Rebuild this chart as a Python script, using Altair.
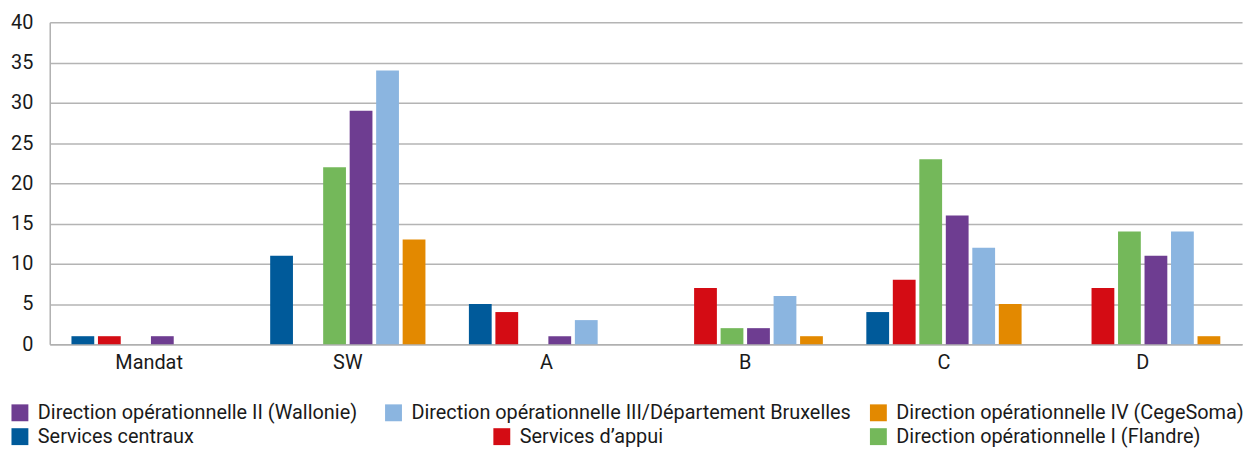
import altair as alt
import pandas as pd

categories = ["Mandat", "SW", "A", "B", "C", "D"]
series = [
    "Services centraux",
    "Services d’appui",
    "Direction opérationnelle I (Flandre)",
    "Direction opérationnelle II (Wallonie)",
    "Direction opérationnelle III/Département Bruxelles",
    "Direction opérationnelle IV (CegeSoma)",
]
colors = ["#005a9a", "#d40c14", "#74b85a", "#6e3d91", "#8bb5e0", "#e38900"]
values = {
    "Services centraux": [1, 11, 5, 0, 4, 0],
    "Services d’appui": [1, 0, 4, 7, 8, 7],
    "Direction opérationnelle I (Flandre)": [0, 22, 0, 2, 23, 14],
    "Direction opérationnelle II (Wallonie)": [1, 29, 1, 2, 16, 11],
    "Direction opérationnelle III/Département Bruxelles": [0, 34, 3, 6, 12, 14],
    "Direction opérationnelle IV (CegeSoma)": [0, 13, 0, 1, 5, 1],
}
# legend placement (relative to plot area)
legend_pos = {
    "Direction opérationnelle II (Wallonie)": (-40, 383),
    "Direction opérationnelle III/Département Bruxelles": (336, 383),
    "Direction opérationnelle IV (CegeSoma)": (824, 383),
    "Services centraux": (-40, 407),
    "Services d’appui": (445, 407),
    "Direction opérationnelle I (Flandre)": (824, 407),
}

rows = []
for s in series:
    for c, v in zip(categories, values[s]):
        rows.append({"cat": c, "series": s, "value": v})
df = pd.DataFrame(rows)

FONT = "Roboto"

layers = []
for s, col in zip(series, colors):
    lx, ly = legend_pos[s]
    layer = (
        alt.Chart(df)
        .transform_filter(alt.datum.series == s)
        .mark_bar()
        .encode(
            x=alt.X(
                "cat:N",
                sort=categories,
                scale=alt.Scale(paddingInner=0.2, paddingOuter=0.1),
                axis=alt.Axis(title=None, labelAngle=0, ticks=False, domainColor="#b0b0b0",
                              domainWidth=1.5, labelFontSize=20, labelPadding=8,
                              labelColor="#1a1a1a", labelFont=FONT),
            ),
            xOffset=alt.XOffset(
                "series:N",
                sort=series,
                scale=alt.Scale(domain=series, paddingInner=0.14, paddingOuter=0.07),
            ),
            y=alt.Y(
                "value:Q",
                scale=alt.Scale(domain=[0, 40]),
                axis=alt.Axis(title=None, values=list(range(0, 41, 5)), ticks=False,
                              domainColor="#b0b0b0", domainWidth=1.5, gridColor="#b4b4b4",
                              gridWidth=1.5, labelFontSize=20, labelPadding=17,
                              labelColor="#1a1a1a", labelFont=FONT),
            ),
            color=alt.Color(
                "series:N",
                scale=alt.Scale(domain=[s], range=[col]),
                legend=alt.Legend(
                    orient="none", legendX=lx, legendY=ly, title=None,
                    symbolType="square", symbolSize=289, symbolStrokeWidth=0,
                    labelFontSize=20, labelFont=FONT, labelColor="#1a1a1a",
                    labelOffset=8, labelLimit=600, padding=0,
                ),
            ),
        )
    )
    layers.append(layer)

chart = (
    alt.layer(*layers)
    .resolve_scale(color="independent")
    .properties(width=1200, height=324, autosize=alt.AutoSizeParams(type="none"),
                padding={"left": 42, "top": 13, "right": 5, "bottom": 103})
    .configure_view(stroke=None)
    .configure_axis(grid=True)
    .configure_axisX(grid=False)
)

chart.save("out.html", embed_options={"renderer": "svg", "actions": False})
